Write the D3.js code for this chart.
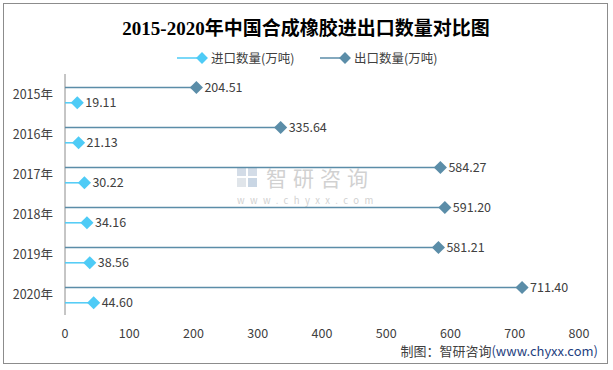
<!DOCTYPE html>
<html>
<head>
<meta charset="utf-8">
<script src="https://cdn.jsdelivr.net/npm/d3@7"></script>
<style>
  body { margin: 0; background: #fff; }
  svg text { font-family: "Noto Sans CJK SC", "Noto Sans", sans-serif; }
</style>
</head>
<body>
<div id="chart"></div>
<script>
// data
var years = ["2015年", "2016年", "2017年", "2018年", "2019年", "2020年"];
var importQty = [19.11, 21.13, 30.22, 34.16, 38.56, 44.60];
var exportQty = [204.51, 335.64, 584.27, 591.20, 581.21, 711.40];
var xTicks = [0, 100, 200, 300, 400, 500, 600, 700, 800];

var W = 613, H = 370;
var importColor = "#4ecbf6", exportColor = "#5b8da8";
var textColor = "#404040";

var svg = d3.select("#chart")
      .append("svg")
      .attr("width", W)
      .attr("height", H);

// outer frame
svg.append("rect")
      .attr("x", 3.5).attr("y", 3.5)
      .attr("width", 604).attr("height", 360)
      .attr("fill", "#fff")
      .attr("stroke", "#8c8c8c")
      .attr("stroke-width", 1);

// title
svg.append("text")
      .attr("x", 306).attr("y", 35)
      .attr("text-anchor", "middle")
      .attr("font-size", 19)
      .attr("font-weight", "bold")
      .attr("fill", "#000")
      .style("font-family", "'Liberation Serif', 'Noto Sans CJK SC', serif")
      .text("2015-2020年中国合成橡胶进出口数量对比图");

// legend
var legend = [
      { name: "进口数量(万吨)", color: importColor, x: 177 },
      { name: "出口数量(万吨)", color: exportColor, x: 320 }
];
var lg = svg.selectAll(".lg").data(legend).enter().append("g")
      .attr("transform", function (d) { return "translate(" + d.x + ",58)"; });
lg.append("line").attr("x1", 0).attr("x2", 25).attr("y1", 0).attr("y2", 0)
      .attr("stroke", function (d) { return d.color; }).attr("stroke-width", 1.5);
lg.append("path").attr("d", d3.symbol(d3.symbolDiamond2, 90))
      .attr("transform", "translate(25,0)")
      .attr("fill", function (d) { return d.color; });
lg.append("text").attr("x", 34).attr("y", 4.5)
      .attr("font-size", 12.5).attr("fill", textColor)
      .text(function (d) { return d.name; });

// scales
var xScale = d3.scaleLinear().domain([0, 800]).range([65, 579]);
var yScale = d3.scaleBand().domain(years).range([74, 314]);

// watermark
var wm = svg.append("g").attr("opacity", 0.45);
wm.append("rect").attr("x", 237).attr("y", 167).attr("width", 9).attr("height", 9).attr("fill", "#9fb3cc");
wm.append("rect").attr("x", 248).attr("y", 167).attr("width", 9).attr("height", 9).attr("fill", "#9fb3cc");
wm.append("rect").attr("x", 237).attr("y", 178).attr("width", 9).attr("height", 9).attr("fill", "#bcc6d2");
wm.append("rect").attr("x", 248).attr("y", 178).attr("width", 9).attr("height", 9).attr("fill", "#8aa5c4");
wm.append("text").attr("x", 266).attr("y", 186).attr("font-size", 21)
      .attr("fill", "#9a9a9a").attr("letter-spacing", 6).text("智研咨询");
wm.append("text").attr("x", 237).attr("y", 204).attr("font-size", 9.5)
      .attr("fill", "#9a9a9a").attr("letter-spacing", 5.4).text("www.chyxx.com");

// y axis line
svg.append("line")
      .attr("x1", xScale(0)).attr("x2", xScale(0))
      .attr("y1", 74).attr("y2", 315)
      .attr("stroke", "#8c8c8c").attr("stroke-width", 1);

// y labels
svg.selectAll(".ylab").data(years).enter().append("text")
      .attr("x", 53)
      .attr("y", function (d) { return yScale(d) + yScale.bandwidth() / 2 + 4.5; })
      .attr("text-anchor", "end")
      .attr("font-size", 12.5).attr("fill", textColor)
      .text(function (d) { return d; });

// x tick labels
svg.selectAll(".xlab").data(xTicks).enter().append("text")
      .attr("x", function (d) { return xScale(d); })
      .attr("y", 338)
      .attr("text-anchor", "middle")
      .attr("font-size", 12.5).attr("fill", textColor)
      .text(function (d) { return d; });

var exp = years.map(function (y, i) { return { year: y, v: exportQty[i] }; });
var imp = years.map(function (y, i) { return { year: y, v: importQty[i] }; });

function drawSeries(data, offset, color, size) {
      var g = svg.append("g");
      g.selectAll("line").data(data).enter().append("line")
            .attr("x1", xScale(0))
            .attr("x2", function (d) { return xScale(d.v); })
            .attr("y1", function (d) { return yScale(d.year) + offset; })
            .attr("y2", function (d) { return yScale(d.year) + offset; })
            .attr("stroke", color).attr("stroke-width", 1.5);
      g.selectAll("path").data(data).enter().append("path")
            .attr("d", d3.symbol(d3.symbolDiamond2, size))
            .attr("transform", function (d) { return "translate(" + xScale(d.v) + "," + (yScale(d.year) + offset) + ")"; })
            .attr("fill", color);
      g.selectAll("text").data(data).enter().append("text")
            .attr("x", function (d) { return xScale(d.v) + 8; })
            .attr("y", function (d) { return yScale(d.year) + offset + 4.5; })
            .attr("font-size", 12.5).attr("fill", textColor)
            .text(function (d) { return d.v.toFixed(2); });
}
drawSeries(exp, 13.5, exportColor, 110);
drawSeries(imp, 28.8, importColor, 110);

// source
var src = svg.append("text").attr("x", 598).attr("y", 356)
      .attr("text-anchor", "end").attr("font-size", 13);
src.append("tspan").attr("fill", "#404040").text("制图：智研咨询");
src.append("tspan").attr("fill", "#1f3f7f").text("(www.chyxx.com)");
</script>
</body>
</html>
